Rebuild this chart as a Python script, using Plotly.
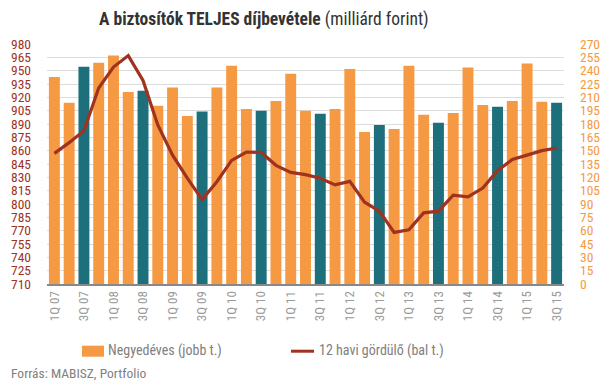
import plotly.graph_objects as go

quarters = ["1Q 07","2Q 07","3Q 07","4Q 07","1Q 08","2Q 08","3Q 08","4Q 08",
            "1Q 09","2Q 09","3Q 09","4Q 09","1Q 10","2Q 10","3Q 10","4Q 10",
            "1Q 11","2Q 11","3Q 11","4Q 11","1Q 12","2Q 12","3Q 12","4Q 12",
            "1Q 13","2Q 13","3Q 13","4Q 13","1Q 14","2Q 14","3Q 14","4Q 14",
            "1Q 15","2Q 15","3Q 15"]
quarterly = [233, 204, 244.5, 249, 257, 216, 217.5, 200.5,
             221, 189, 194, 221, 245.5, 197, 195, 206,
             236.5, 195, 191.5, 197, 242, 171, 179, 174.5,
             245.5, 190.5, 181.5, 192.5, 243.5, 201.5, 199.5, 206,
             248, 205, 204]
rolling = [857, 869, 882.5, 930.5, 954, 967, 939, 889,
           855, 829, 805, 825, 849, 858.5, 858, 843.5,
           835.5, 833, 829, 821.5, 825.5, 802, 792, 768,
           771, 790, 792, 810, 808, 818, 837.5, 850,
           855, 860, 863]
tick_labels = quarters[::2]
left_ticks = list(range(710, 981, 15))
right_ticks = list(range(0, 271, 15))

ORANGE = "#F59A43"
TEAL = "#1E6F7C"
RED = "#A0321F"
FONT = "Roboto Condensed, Liberation Sans Narrow, DejaVu Sans Condensed, Roboto, sans-serif"

colors = [TEAL if q.startswith("3Q") else ORANGE for q in quarters]

fig = go.Figure()
fig.add_trace(go.Bar(x=quarters, y=quarterly, marker=dict(color=colors, line_width=0),
                     width=0.74, yaxis="y", showlegend=False))
fig.add_trace(go.Scatter(x=quarters, y=rolling, mode="lines",
                         line=dict(color=RED, width=3.2), yaxis="y2", showlegend=False))

W, H = 607, 383
L, R, T, B = 47, 43, 44.3, 98.7
pw, ph = W - L - R, H - T - B

def px(x):
    return (x - L) / pw

def py(y):
    return (H - B - y) / ph

fig.update_layout(
    width=W, height=H,
    margin=dict(l=L, r=R, t=T, b=B, autoexpand=False),
    paper_bgcolor="white", plot_bgcolor="white",
    font=dict(family=FONT, color="#777777"),
    bargap=0.26,
    xaxis=dict(type="category", tickmode="array", tickvals=tick_labels, ticktext=tick_labels,
               tickangle=-90, tickfont=dict(size=13, color="#9a9a9a"), automargin=False,
               showline=True, linecolor="#888888", linewidth=2, showgrid=False,
               ticks="", range=[-0.5, len(quarters) - 0.5]),
    yaxis=dict(side="right", range=[0, 270], tickvals=right_ticks, automargin=False,
               tickfont=dict(size=13.5, color=ORANGE), showgrid=True, gridcolor="#dcdcdc",
               gridwidth=1, zeroline=False, ticks="", ticklabelstandoff=15),
    yaxis2=dict(side="left", overlaying="y", range=[710, 980], tickvals=left_ticks, automargin=False,
                tickfont=dict(size=13.5, color="#A0321F"), showgrid=False, zeroline=False,
                ticks="", ticklabelstandoff=15),
)

fig.add_annotation(xref="paper", yref="paper", x=px(264), y=py(20), xanchor="center", yanchor="middle",
                   text="<b>A biztosítók TELJES díjbevétele</b> (milliárd forint)", showarrow=False,
                   font=dict(size=17.5, color="#333333", family=FONT))

# legend (manual)
fig.add_shape(type="rect", xref="paper", yref="paper", x0=px(82), x1=px(104), y0=py(346), y1=py(357),
              fillcolor=ORANGE, line_width=0)
fig.add_annotation(xref="paper", yref="paper", x=px(106), y=py(351), xanchor="left", yanchor="middle",
                   text="Negyedéves (jobb t.)", showarrow=False, font=dict(size=14, color="#808080"))
fig.add_shape(type="line", xref="paper", yref="paper", x0=px(291), x1=px(314), y0=py(351.5), y1=py(351.5),
              line=dict(color=RED, width=3))
fig.add_annotation(xref="paper", yref="paper", x=px(317), y=py(351), xanchor="left", yanchor="middle",
                   text="12 havi gördülő (bal t.)", showarrow=False, font=dict(size=14, color="#808080"))
fig.add_annotation(xref="paper", yref="paper", x=px(9), y=py(373), xanchor="left", yanchor="middle",
                   text="Forrás: MABISZ, Portfolio", showarrow=False, font=dict(size=13.5, color="#808080"))

fig.write_html("out.html", config={"displayModeBar": False},
               post_script="document.body.style.margin='0px';document.body.style.overflow='hidden';")
